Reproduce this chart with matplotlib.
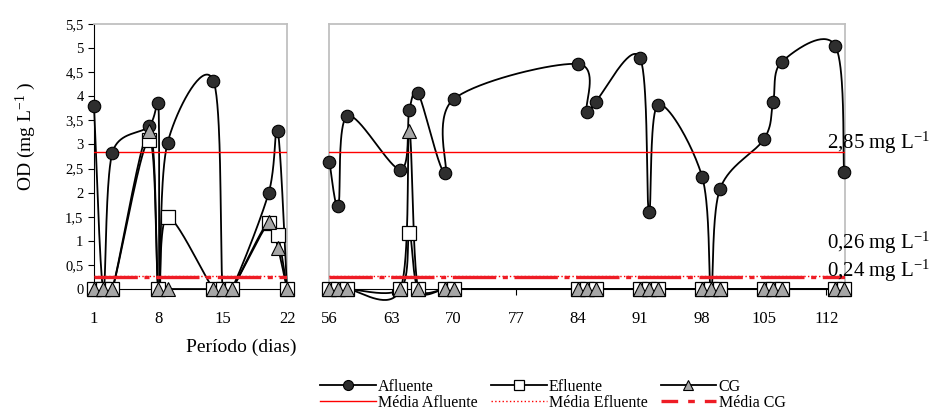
import numpy as np
import matplotlib.pyplot as plt
from matplotlib.lines import Line2D
from matplotlib.ticker import FuncFormatter

plt.rcParams['font.family'] = ['Liberation Serif', 'DejaVu Serif']
plt.rcParams['mathtext.fontset'] = 'custom'
plt.rcParams['mathtext.rm'] = 'Liberation Serif'
plt.rcParams['mathtext.it'] = 'Liberation Serif:italic'

# Primeiro período (dias 1 a 22)
dias_afl_1 = [1, 2, 3, 7, 8, 8.15, 9, 14, 15, 16, 20, 21, 22]
afluente_1 = [3.80, 0, 2.83, 3.38, 3.87, 0, 3.03, 4.32, 0, 0, 1.99, 3.28, 0]
dias_1 = [1, 2, 3, 7, 8, 9, 14, 15, 16, 20, 21, 22]
efluente_1 = [0, 0, 0, 3.10, 0, 1.50, 0, 0, 0, 1.38, 1.13, 0]
cg_1 = [0, 0, 0, 3.28, 0, 0, 0, 0, 0, 1.40, 0.86, 0]

# Segundo período (dias 56 a 114)
dias_2 = [56, 57, 58, 64, 65, 66, 69, 70, 84, 85, 86, 91, 92, 93,
          98, 99, 100, 105, 106, 107, 113, 114]
afluente_2 = [2.64, 1.72, 3.59, 2.48, 3.71, 4.06, 2.41, 3.94, 4.67, 3.68, 3.89,
              4.80, 1.60, 3.82, 2.33, 0, 2.07, 3.12, 3.88, 4.72, 5.05, 2.43]
efluente_2 = [0, 0, 0, 0, 1.16, 0, 0, 0, 0, 0, 0,
              0, 0, 0, 0, 0, 0, 0, 0, 0, 0, 0]
cg_2 = [0, 0, 0, 0, 3.28, 0, 0, 0, 0, 0, 0,
        0, 0, 0, 0, 0, 0, 0, 0, 0, 0, 0]

# Médias
media_afluente = 2.85
media_efluente = 0.26
media_cg = 0.24

ticks_1 = [1, 8, 15, 22]
ticks_2 = [56, 63, 70, 77, 84, 91, 98, 105, 112]
ticks_y = np.arange(0, 5.51, 0.5)


def suavizar(ax, x, y, n=40):
    # linha suavizada no estilo do Excel: Bezier com braços de controle
    # limitados a metade do segmento (calculado em pixels)
    p = ax.transData.transform(np.column_stack([x, y]).astype(float))
    p = np.vstack([p[0], p, p[-1]])
    t = np.linspace(0, 1, n)[:, None]
    seg = []
    for i in range(1, len(p) - 2):
        p0, p1, p2, p3 = p[i - 1], p[i], p[i + 1], p[i + 2]
        d02 = np.hypot(*(p2 - p0))
        d12 = np.hypot(*(p2 - p1))
        d13 = np.hypot(*(p3 - p1))
        f = 1 / 6 if d02 / 6 < d12 / 2 else d12 / d02 / 2
        g = 1 / 6 if d13 / 6 < d12 / 2 else d12 / d13 / 2
        c1 = p1 + f * (p2 - p0)
        c2 = p2 - g * (p3 - p1)
        seg.append((1 - t) ** 3 * p1 + 3 * (1 - t) ** 2 * t * c1
                   + 3 * (1 - t) * t ** 2 * c2 + t ** 3 * p2)
    c = ax.transData.inverted().transform(np.vstack(seg))
    return c[:, 0], c[:, 1]


def virgula(v, pos):
    return f'{v:g}'.replace('.', ',')


estilo_afl = dict(marker='o', ms=9, mfc='#2e2e2e', mec='black', mew=0.8)
estilo_ef = dict(marker='s', ms=9.5, mfc='white', mec='black', mew=0.9)
estilo_cg = dict(marker='^', ms=9.5, mfc='#a6a6a6', mec='black', mew=0.8)
traco_cg = (0, (13, 2, 1.5, 2))

fig = plt.figure(figsize=(9.39, 4.12), dpi=100)
ax1 = fig.add_axes([94 / 939, 1 - 289 / 412, 193 / 939, 265 / 412])
ax2 = fig.add_axes([329 / 939, 1 - 289 / 412, 516 / 939, 265 / 412])

ax1.set_xlim(1, 22)
ax2.set_xlim(55.95, 114.1)

paineis = [
    (ax1, dias_afl_1, afluente_1, dias_1, efluente_1, cg_1),
    (ax2, dias_2, afluente_2, dias_2, efluente_2, cg_2),
]

for ax, xa, ya, x, ef, cg in paineis:
    ax.set_ylim(0, 5.5)
    for xs, ys in [(xa, ya), (x, ef), (x, cg)]:
        sx, sy = suavizar(ax, xs, ys)
        ax.plot(sx, sy, color='black', lw=1.3, clip_on=False, zorder=3)
    ax.plot(xa, ya, ls='none', clip_on=False, zorder=5, **estilo_afl)
    ax.plot(x, ef, ls='none', clip_on=False, zorder=6, **estilo_ef)
    ax.plot(x, cg, ls='none', clip_on=False, zorder=7, **estilo_cg)

    ax.axhline(media_afluente, color='red', lw=1.0, zorder=4)
    ax.axhline(media_efluente, color='red', lw=1.0, ls=':', zorder=4)
    ax.axhline(media_cg, color='#ee1c25', lw=2.4, ls=traco_cg, zorder=4)

    ax.set_yticks(ticks_y)
    ax.yaxis.set_major_formatter(FuncFormatter(virgula))
    ax.tick_params(axis='x', direction='out', length=4, width=0.8,
                   labelsize=12, pad=12)
    for lado in ['top', 'right', 'left']:
        ax.spines[lado].set_color('#c0c0c0')
        ax.spines[lado].set_linewidth(1.3)
    ax.spines['bottom'].set_linewidth(0.8)

ax1.set_xticks(ticks_1)
ax1.spines['left'].set_color('black')
ax1.spines['left'].set_linewidth(0.8)
ax1.tick_params(axis='y', direction='out', length=4.5, width=0.8,
                labelsize=10.5, pad=3)
ax1.set_ylabel('OD (mg L$^{-1}$ )', fontsize=14)
ax1.yaxis.set_label_coords(-0.29, 0.574)

ax2.set_xticks(ticks_2)
ax2.tick_params(axis='y', left=False, labelleft=False)

# rótulos das médias
for valor, dy in [(media_afluente, 6), (media_efluente, 24), (media_cg, 5)]:
    ax2.annotate(f'{valor:.2f}'.replace('.', ',') + ' mg L$^{-1}$',
                 xy=(112.1, valor), xytext=(0, dy), textcoords='offset points',
                 fontsize=15, va='center', ha='left', annotation_clip=False,
                 zorder=8)

fig.text(241 / 939, 1 - 347 / 412, 'Período (dias)', fontsize=14,
         ha='center', va='center')

handles = [
    Line2D([], [], color='black', lw=1.3, **estilo_afl),
    Line2D([], [], color='red', lw=1.0),
    Line2D([], [], color='black', lw=1.3, **estilo_ef),
    Line2D([], [], color='red', lw=1.0, ls=':'),
    Line2D([], [], color='black', lw=1.3, **estilo_cg),
    Line2D([], [], color='#ee1c25', lw=2.4, ls=(0, (5, 3, 2, 3))),
]
labels = ['Afluente', 'Média Afluente', 'Efluente', 'Média Efluente',
          'CG', 'Média CG']
fig.legend(handles, labels, ncol=3, loc='upper left',
           bbox_to_anchor=(312 / 939, 1 - 371 / 412), frameon=False,
           fontsize=11.5, handlelength=3.5, handletextpad=0.15,
           columnspacing=0.8, labelspacing=0.0, borderpad=0,
           markerscale=0.8)

fig.savefig('out.png', dpi=100)
